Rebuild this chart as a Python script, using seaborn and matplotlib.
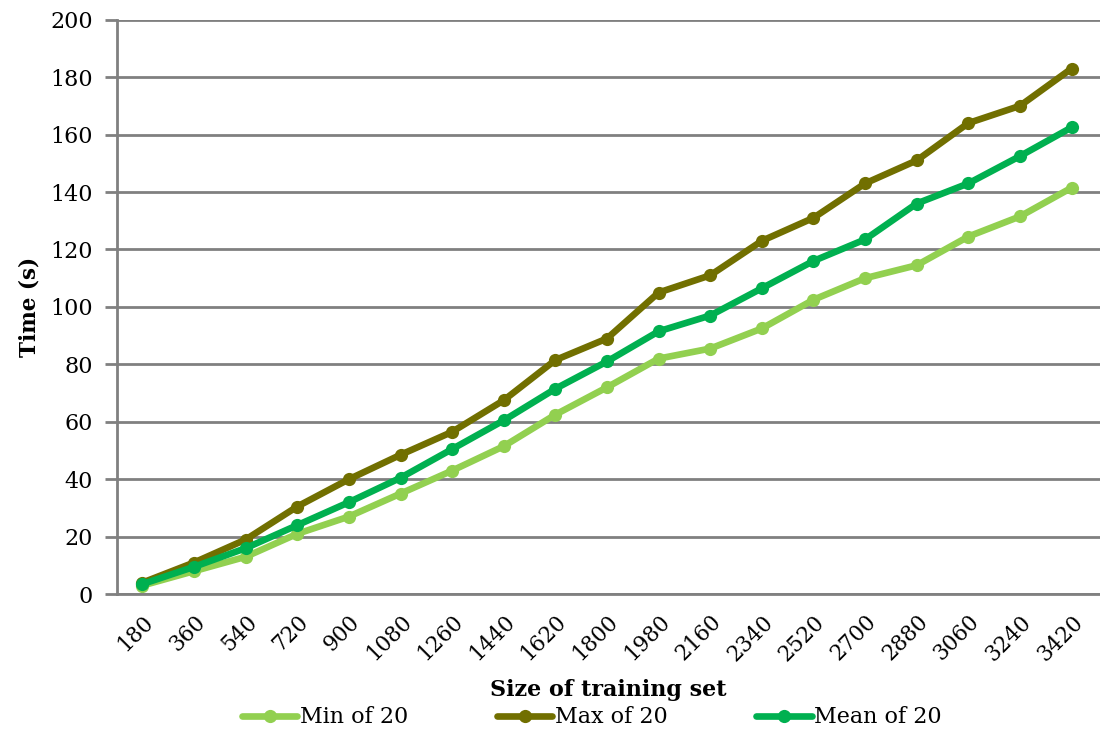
import matplotlib
matplotlib.use("Agg")
import matplotlib.pyplot as plt
import seaborn as sns
import pandas as pd

# Training set sizes and timing results (seconds)
sizes = [180, 360, 540, 720, 900, 1080, 1260, 1440, 1620, 1800,
         1980, 2160, 2340, 2520, 2700, 2880, 3060, 3240, 3420]
min_of_20 = [3, 8, 13, 21, 27, 35, 43, 51.5, 62.5, 72, 82, 85.5, 92.5,
             102.5, 110, 114.5, 124.5, 131.5, 141.5]
max_of_20 = [4, 11, 19, 30.5, 40, 48.5, 56.5, 67.5, 81.5, 89, 105, 111, 123,
             131, 143, 151, 164, 170, 183]
mean_of_20 = [3.5, 9.5, 16, 24, 32, 40.5, 50.5, 60.5, 71.5, 81, 91.5, 97,
              106.5, 116, 123.5, 136, 143, 152.5, 162.5]
series_names = ["Min of 20", "Max of 20", "Mean of 20"]
colors = ["#92D050", "#716F00", "#00B050"]

frames = []
for name, vals in zip(series_names, [min_of_20, max_of_20, mean_of_20]):
    frames.append(pd.DataFrame({"pos": range(len(sizes)), "time": vals, "series": name}))
df = pd.concat(frames, ignore_index=True)

sns.set_theme(style="white")
plt.rcParams["font.family"] = ["DejaVu Serif"]
plt.rcParams["text.color"] = "black"
plt.rcParams["axes.labelcolor"] = "black"
plt.rcParams["xtick.color"] = "black"
plt.rcParams["ytick.color"] = "black"

fig = plt.figure(figsize=(11, 7.29), dpi=100)
ax = fig.add_axes([0.106, 0.185, 0.894, 0.788])

sns.lineplot(data=df, x="pos", y="time", hue="series", palette=colors,
             hue_order=series_names, marker="o", markersize=9.5,
             markeredgewidth=0, linewidth=4.8, ax=ax, legend=True)

grid_c = "#808080"
ax.set_ylim(0, 200)
ax.set_xlim(-0.5, 18.55)
ax.set_yticks(range(0, 201, 20))
ax.yaxis.grid(True, color=grid_c, linewidth=2)
ax.set_axisbelow(True)
for s in ["top", "right"]:
    ax.spines[s].set_visible(False)
ax.spines["left"].set_color(grid_c)
ax.spines["left"].set_linewidth(2)
ax.spines["bottom"].set_color(grid_c)
ax.spines["bottom"].set_linewidth(2)
ax.tick_params(axis="y", which="both", left=True, length=9, width=2,
               color=grid_c, labelcolor="black", labelsize=16, pad=8)
ax.tick_params(axis="x", bottom=False, labelcolor="black", labelsize=15.5, pad=6)

ax.set_xticks(range(len(sizes)))
ax.set_xticklabels([str(s) for s in sizes], rotation=45, ha="right",
                   rotation_mode="anchor")
ax.set_ylabel("Time (s)", fontsize=15.5, fontweight="bold", labelpad=7)
ax.set_xlabel("Size of training set", fontsize=16, fontweight="bold", labelpad=10)

handles, labels = ax.get_legend_handles_labels()
ax.get_legend().remove()
fig.legend(handles, labels, loc="center", bbox_to_anchor=(0.538, 0.016),
           ncol=3, frameon=False, fontsize=16, handlelength=2.5,
           handletextpad=0.1, columnspacing=4.0, borderpad=0)

fig.savefig("out.png", dpi=100)
